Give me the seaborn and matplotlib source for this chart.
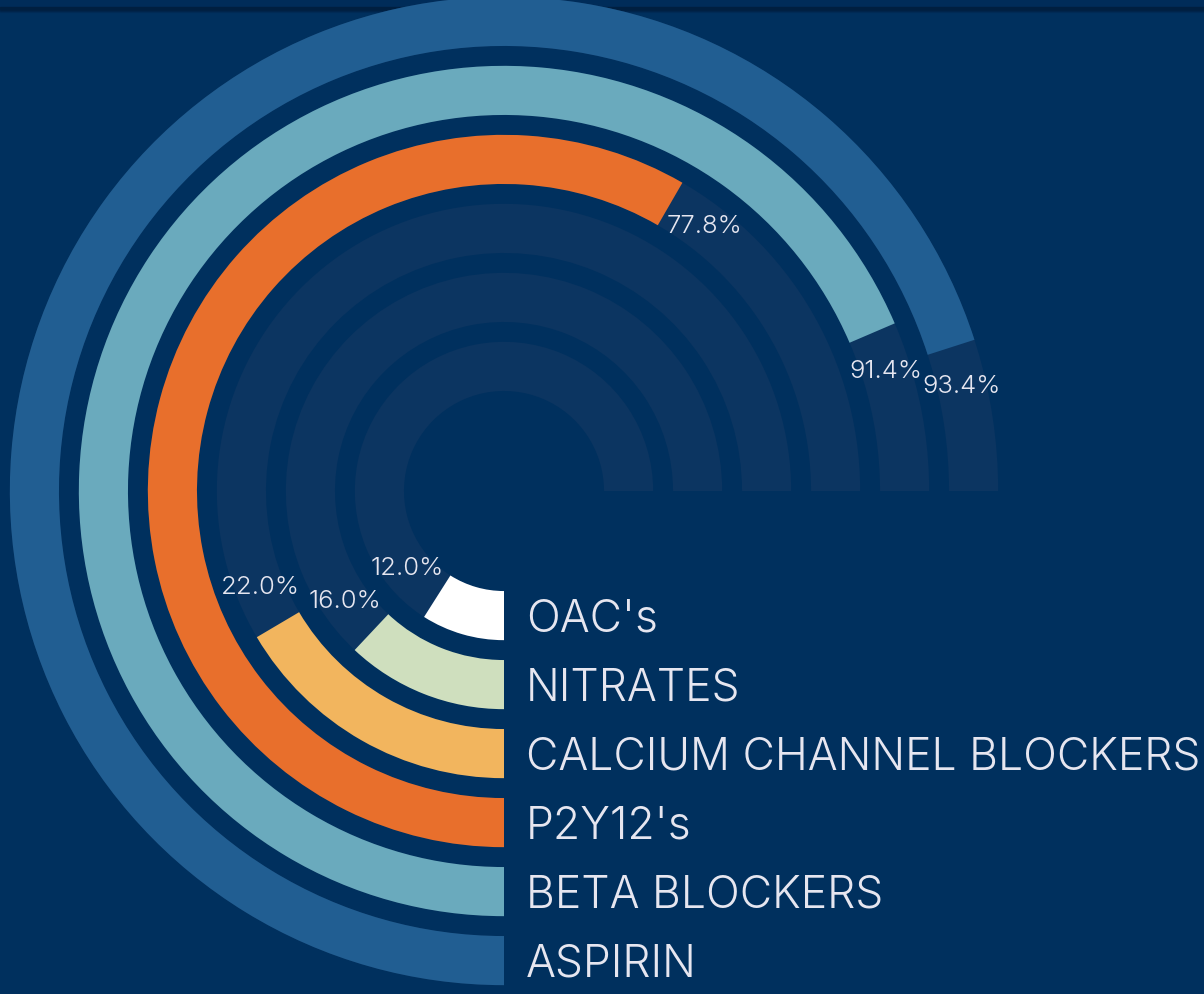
import numpy as np
import pandas as pd
import matplotlib
matplotlib.use("Agg")
import matplotlib.pyplot as plt
import seaborn as sns

# data (inner ring first)
drugs = ["OAC's", "NITRATES", "CALCIUM CHANNEL BLOCKERS", "P2Y12's", "BETA BLOCKERS", "ASPIRIN"]
pct = [12.0, 16.0, 22.0, 77.8, 91.4, 93.4]
colors = ["#ffffff", "#cfdfbe", "#f2b55e", "#e86f2c", "#6aaabd", "#215e92"]

bg = "#00305e"
track = "#0c3561"
text_col = "#e6e6f0"

sns.set_theme(style="dark")
plt.rcParams["font.family"] = ["Inter", "DejaVu Sans"]

full = 1.5 * np.pi  # 100% = three quarters of a circle
df = pd.DataFrame({"drug": drugs, "pct": pct})
df["theta"] = df["pct"] / 100 * full
df["full"] = full

W, H = 1204, 994
cx, cy = 504, 491          # centre of the rings in pixels
R = 500                    # axes radius in pixels
pitch = 69.0               # ring spacing in pixels
r0 = 124.6                 # radius of innermost ring centre in pixels

fig = plt.figure(figsize=(W / 100, H / 100), dpi=100, facecolor=bg)
ax = fig.add_axes([(cx - R) / W, (H - cy - R) / H, 2 * R / W, 2 * R / H], projection="polar")
ax.set_facecolor("none")

sns.barplot(data=df, x="full", y="drug", order=drugs, color=track, width=0.712,
            orient="h", linewidth=0, saturation=1, ax=ax)
sns.barplot(data=df, x="theta", y="drug", order=drugs, hue="drug", hue_order=drugs,
            palette=colors, width=0.712, orient="h", linewidth=0, saturation=1,
            legend=False, ax=ax)

ax.set_theta_zero_location("S")
ax.set_theta_direction(-1)
ax.set_ylim(-r0 / pitch, -r0 / pitch + R / pitch)
ax.grid(False)
ax.set_xticks([])
ax.set_yticks([])
ax.set_xlabel("")
ax.set_ylabel("")
ax.spines["polar"].set_visible(False)

# percentage labels just past the end of each bar
for i, (name, p, th) in enumerate(zip(drugs, pct, df["theta"])):
    rpx = r0 + i * pitch
    ax.text(th + 41 / rpx, i, f"{p:.1f}%", ha="center", va="center",
            fontsize=18.5, color=text_col, fontweight=350)
    ax.annotate(name, xy=(0, i), xytext=(22, -16), textcoords="offset pixels",
                ha="left", va="baseline", fontsize=32, color=text_col,
                fontweight=350, annotation_clip=False)

# dark strip at the top
fig.patches.append(plt.Rectangle((0, 1 - 7 / H), 1, 7 / H, transform=fig.transFigure,
                                 color="#002c59", zorder=-1))
for k, a in enumerate([0.9, 0.7, 0.5, 0.3, 0.15]):
    fig.patches.append(plt.Rectangle((0, 1 - (8 + k) / H), 1, 1 / H, transform=fig.transFigure,
                                     color="#001f40", alpha=a, zorder=-1))

fig.savefig("out.png", dpi=100, facecolor=bg)
